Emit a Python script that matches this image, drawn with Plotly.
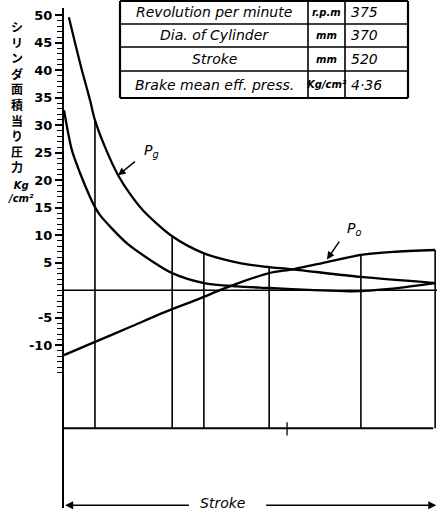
import numpy as np
import plotly.graph_objects as go

# ---- data (stroke in % of stroke, pressure in kg/cm2) ----
stroke_pg = [1.3, 2.9, 4.8, 7.0, 8.3, 11.0, 14.5, 17.7, 21.2, 29.0, 37.5, 45.3, 50.0, 55.0, 61.4, 79.6, 99.5]
pg = [49.6, 45.1, 40.0, 34.5, 30.9, 26.0, 20.9, 17.5, 14.5, 9.8, 6.7, 5.2, 4.6, 4.2, 3.8, 2.4, 1.3]

stroke_low = [0, 2.1, 4.3, 7.0, 8.3, 9.7, 16.9, 23.1, 29.0, 37.5, 46.4, 55.0, 67.0, 77.2, 88.0, 99.5]
p_low = [32.7, 25.5, 21.3, 16.9, 15.1, 13.6, 8.5, 5.5, 3.1, 1.3, 0.7, 0.4, 0.0, -0.2, 0.3, 1.3]

stroke_po = [0, 8.0, 17.7, 27.0, 36.5, 41.8, 46.4, 55.0, 61.4, 70.5, 79.6, 88.2, 99.5]
po = [-11.8, -9.5, -6.7, -4.0, -1.5, 0.0, 1.2, 3.1, 3.8, 5.1, 6.4, 6.95, 7.3]

vline_stroke = [8.3, 29.0, 37.5, 55.0, 79.6, 99.5]
base_level = -25.1
mid_mark = 59.8

y_major = [50, 45, 40, 35, 30, 25, 20, 15, 10, 5, -5, -10]
y_major_text = [str(v) for v in y_major]
y_minor = [v for v in range(-15, 51) if v not in y_major]

table_labels = ["Revolution per minute", "Dia. of Cylinder", "Stroke", "Brake mean eff. press."]
table_units = ["r.p.m", "mm", "mm", "Kg/cm²"]
table_values = ["375", "370", "520", "4·36"]

y_title_jp = "シリンダ面積当り圧力"

# ---- figure ----
W, H = 437, 514
ML, MR, MT, MB = 64, 0, 0, 6
PW = W - ML - MR
PH = H - MT - MB


def px_x(px):
    return (px - ML) / PW


def px_y(py):
    return (H - MB - py) / PH


fig = go.Figure()
line_kw = dict(color="black", width=2.3, shape="spline", smoothing=0.8)
fig.add_trace(go.Scatter(x=stroke_pg, y=pg, mode="lines", line=line_kw, name="Pg", hoverinfo="skip"))
fig.add_trace(go.Scatter(x=stroke_low, y=p_low, mode="lines", line=line_kw, name="p", hoverinfo="skip"))
fig.add_trace(go.Scatter(x=stroke_po, y=po, mode="lines", line=line_kw, name="Po", hoverinfo="skip"))

# vertical ordinates
vx, vy = [], []
for s in vline_stroke:
    top = max(np.interp(s, stroke_pg, pg), np.interp(s, stroke_low, p_low), np.interp(s, stroke_po, po))
    vx += [s, s, None]
    vy += [base_level, top, None]
fig.add_trace(go.Scatter(x=vx, y=vy, mode="lines", line=dict(color="black", width=1.6), hoverinfo="skip"))

# zero line and base line
fig.add_trace(go.Scatter(x=[0, 100], y=[0, 0], mode="lines", line=dict(color="black", width=1.6), hoverinfo="skip"))
fig.add_trace(go.Scatter(x=[0, 99], y=[base_level, base_level], mode="lines", line=dict(color="black", width=1.8), hoverinfo="skip"))
fig.add_trace(go.Scatter(x=[mid_mark, mid_mark], y=[base_level + 1.1, base_level - 1.3], mode="lines",
                         line=dict(color="black", width=1.3), hoverinfo="skip"))

font_it = dict(family="DejaVu Sans", size=14, color="black", style="italic")

# Pg / Po labels with arrows
fig.add_annotation(x=14.5, y=20.9, ax=19.8, ay=23.8, xref="x", yref="y", axref="x", ayref="y",
                   text=" ", showarrow=True, arrowhead=2, arrowsize=1, arrowwidth=1.5, arrowcolor="black")
fig.add_annotation(x=20.8, y=25.3, text="P<sub>g</sub>", showarrow=False, font=font_it,
                   xanchor="left", yanchor="middle")
fig.add_annotation(x=70.5, y=5.6, ax=74.6, ay=9.6, xref="x", yref="y", axref="x", ayref="y",
                   text=" ", showarrow=True, arrowhead=2, arrowsize=1, arrowwidth=1.5, arrowcolor="black")
fig.add_annotation(x=75.3, y=11.2, text="P<sub>o</sub>", showarrow=False, font=font_it,
                   xanchor="left", yanchor="middle")

# Stroke arrow
y_arrow = -39.1
fig.add_annotation(x=0.3, y=y_arrow, ax=34.3, ay=y_arrow, xref="x", yref="y", axref="x", ayref="y",
                   text=" ", showarrow=True, arrowhead=2, arrowsize=1, arrowwidth=1.6, arrowcolor="black")
fig.add_annotation(x=99.8, y=y_arrow, ax=53.4, ay=y_arrow, xref="x", yref="y", axref="x", ayref="y",
                   text=" ", showarrow=True, arrowhead=2, arrowsize=1, arrowwidth=1.6, arrowcolor="black")
fig.add_annotation(x=42.6, y=y_arrow + 0.5, text="Stroke", showarrow=False, font=font_it,
                   xanchor="center", yanchor="middle")

# y-axis title (vertical Japanese)
fig.add_annotation(x=px_x(17), y=px_y(96), xref="paper", yref="paper", text="<br>".join(y_title_jp),
                   showarrow=False, xanchor="center", yanchor="middle",
                   font=dict(family="Noto Sans CJK JP", size=12, color="black", weight="bold"))
fig.add_annotation(x=px_x(21), y=px_y(192), xref="paper", yref="paper", text="Kg<br>/cm²",
                   showarrow=False, xanchor="center", yanchor="middle",
                   font=dict(family="DejaVu Sans", size=10, color="black", style="italic", weight="bold"))

# table
col_px = [120, 308, 345, 408]
row_px = [1, 24, 47, 71, 98]
for py in row_px:
    w = 2.2 if py in (row_px[0], row_px[-1]) else 1.6
    fig.add_shape(type="line", xref="paper", yref="paper", x0=px_x(col_px[0]), x1=px_x(col_px[-1]),
                  y0=px_y(py), y1=px_y(py), line=dict(color="black", width=w))
for i, cx in enumerate(col_px):
    w = 2.2 if i in (0, len(col_px) - 1) else 1.6
    fig.add_shape(type="line", xref="paper", yref="paper", x0=px_x(cx), x1=px_x(cx),
                  y0=px_y(row_px[0]), y1=px_y(row_px[-1]), line=dict(color="black", width=w))
for i in range(len(table_labels)):
    yc = px_y((row_px[i] + row_px[i + 1]) / 2)
    fig.add_annotation(x=px_x((col_px[0] + col_px[1]) / 2), y=yc, xref="paper", yref="paper",
                       xanchor="center", yanchor="middle",
                       text=table_labels[i], showarrow=False, font=font_it)
    fig.add_annotation(x=px_x((col_px[1] + col_px[2]) / 2), y=yc, xref="paper", yref="paper",
                       xanchor="center", yanchor="middle",
                       text=table_units[i], showarrow=False,
                       font=dict(family="DejaVu Sans", size=10, color="black", style="italic", weight="bold"))
    fig.add_annotation(x=px_x(col_px[2] + 4), y=yc, xref="paper", yref="paper", xanchor="left",
                       yanchor="middle", text=table_values[i], showarrow=False, font=font_it)

fig.update_layout(
    width=W, height=H, margin=dict(l=ML, r=MR, t=MT, b=MB, autoexpand=False),
    paper_bgcolor="white", plot_bgcolor="white", showlegend=False,
    xaxis=dict(range=[0, 100], visible=False, fixedrange=True),
    yaxis=dict(range=[-39.6, 51.3], domain=[0, (PH - 8) / PH], showgrid=False, zeroline=False,
               showline=True, linecolor="black", linewidth=2,
               ticks="outside", ticklen=7, tickwidth=1.5, tickcolor="black",
               tickmode="array", tickvals=y_major, ticktext=y_major_text,
               tickfont=dict(family="DejaVu Sans", size=13, color="black", weight="bold"),
               minor=dict(tickmode="array", tickvals=y_minor, ticks="outside", ticklen=5,
                          tickwidth=1.2, tickcolor="black"),
               fixedrange=True, automargin=False),
)

fig.write_html("out.html", config={"displayModeBar": False},
               post_script="document.body.style.margin='0px';document.body.style.overflow='hidden';")
